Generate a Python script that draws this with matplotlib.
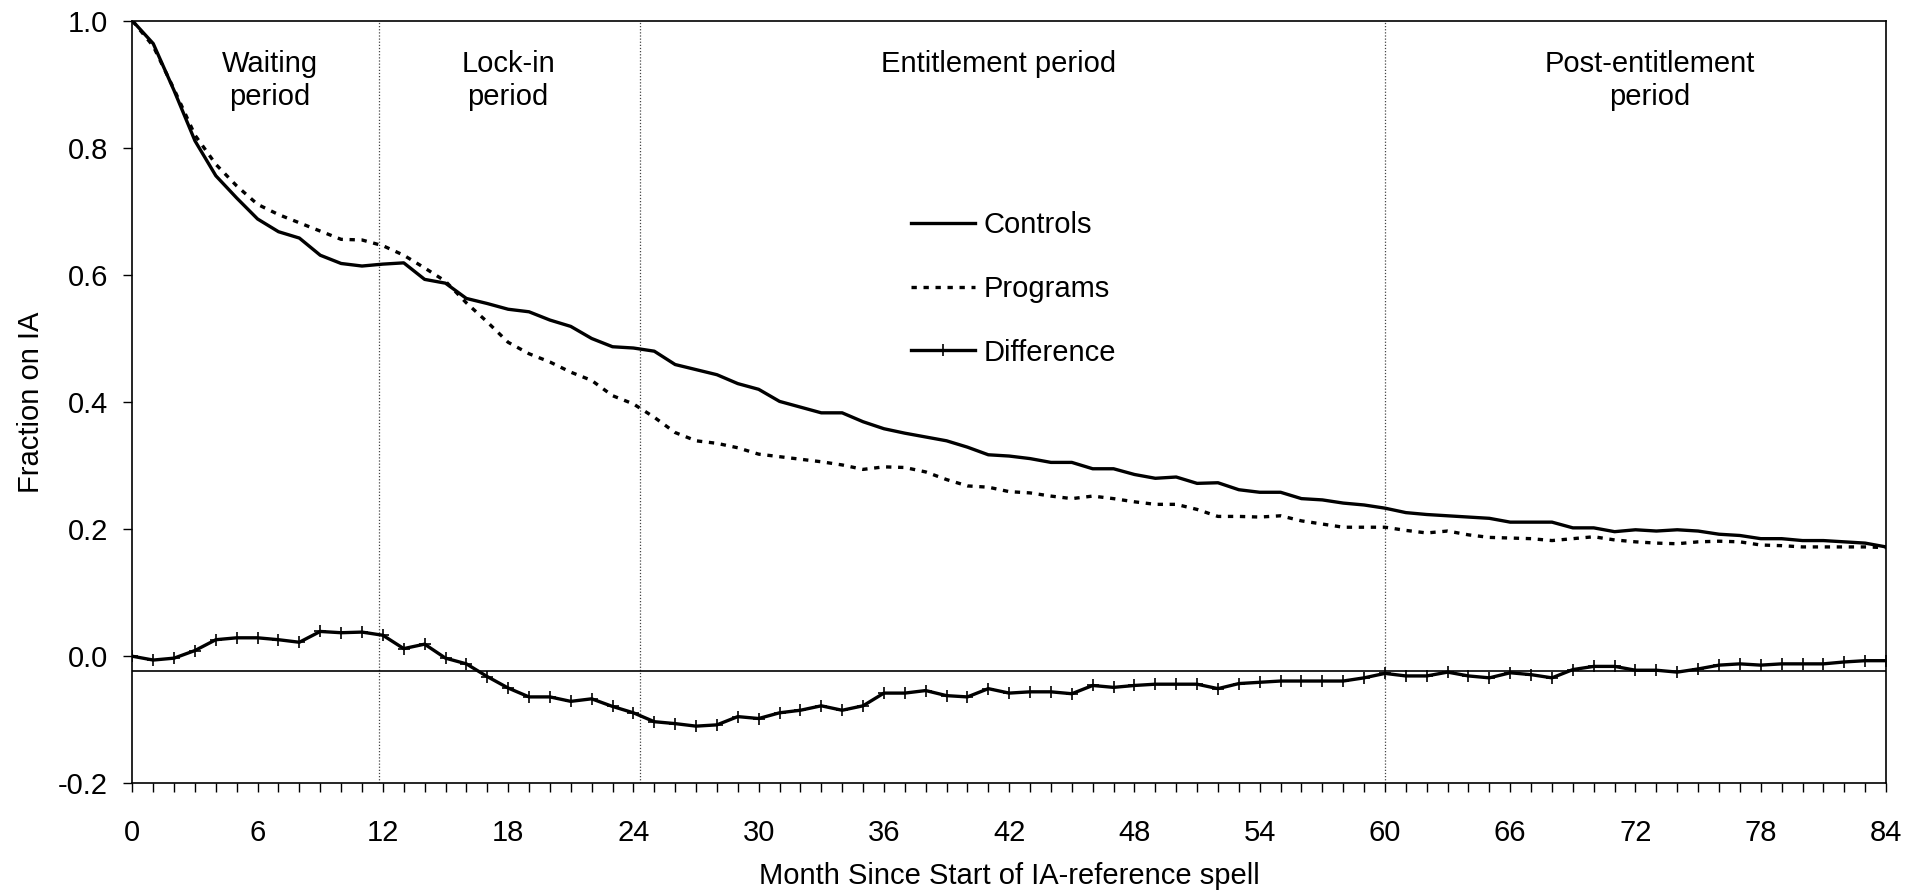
import numpy as np
import matplotlib
matplotlib.use("Agg")
import matplotlib.pyplot as plt
from matplotlib.ticker import FormatStrFormatter

# Monthly fractions on IA, months 0..84
months = np.arange(0, 85)

controls = [
    1.000, 0.964, 0.890, 0.811, 0.756, 0.721, 0.688, 0.668, 0.658, 0.631,
    0.618, 0.614, 0.617, 0.619, 0.593, 0.587, 0.563, 0.555, 0.546, 0.542,
    0.529, 0.519, 0.500, 0.487, 0.485, 0.480, 0.459, 0.451, 0.443, 0.429,
    0.420, 0.401, 0.392, 0.383, 0.383, 0.369, 0.358, 0.351, 0.345, 0.339,
    0.329, 0.317, 0.315, 0.311, 0.305, 0.305, 0.295, 0.295, 0.286, 0.280,
    0.282, 0.272, 0.273, 0.262, 0.258, 0.258, 0.248, 0.246, 0.241, 0.238,
    0.233, 0.226, 0.223, 0.221, 0.219, 0.217, 0.211, 0.211, 0.211, 0.202,
    0.202, 0.196, 0.199, 0.197, 0.199, 0.197, 0.192, 0.190, 0.185, 0.185,
    0.182, 0.182, 0.180, 0.178, 0.172,
]

programs = [
    1.000, 0.960, 0.892, 0.820, 0.774, 0.740, 0.711, 0.695, 0.682, 0.669,
    0.656, 0.655, 0.646, 0.631, 0.611, 0.590, 0.556, 0.526, 0.494, 0.476,
    0.463, 0.447, 0.434, 0.410, 0.397, 0.376, 0.352, 0.339, 0.335, 0.328,
    0.318, 0.314, 0.310, 0.306, 0.301, 0.294, 0.298, 0.297, 0.290, 0.278,
    0.268, 0.266, 0.259, 0.257, 0.252, 0.248, 0.252, 0.248, 0.243, 0.239,
    0.239, 0.231, 0.220, 0.220, 0.219, 0.221, 0.213, 0.208, 0.203, 0.203,
    0.203, 0.198, 0.194, 0.197, 0.191, 0.187, 0.186, 0.185, 0.182, 0.185,
    0.188, 0.183, 0.180, 0.178, 0.177, 0.180, 0.181, 0.180, 0.175, 0.174,
    0.172, 0.172, 0.172, 0.172, 0.171,
]

difference = [
    0.000, -0.006, -0.003, 0.009, 0.026, 0.029, 0.029, 0.026, 0.022, 0.039,
    0.037, 0.038, 0.033, 0.012, 0.019, -0.003, -0.012, -0.032, -0.050, -0.064,
    -0.064, -0.071, -0.067, -0.079, -0.089, -0.103, -0.106, -0.110, -0.108, -0.095,
    -0.098, -0.089, -0.085, -0.078, -0.085, -0.078, -0.058, -0.058, -0.054, -0.062,
    -0.064, -0.051, -0.058, -0.056, -0.056, -0.059, -0.046, -0.049, -0.046, -0.044,
    -0.044, -0.044, -0.051, -0.043, -0.041, -0.039, -0.039, -0.039, -0.039, -0.034,
    -0.027, -0.031, -0.031, -0.025, -0.031, -0.034, -0.026, -0.029, -0.034, -0.021,
    -0.016, -0.016, -0.022, -0.022, -0.025, -0.020, -0.014, -0.012, -0.014, -0.012,
    -0.012, -0.012, -0.009, -0.007, -0.007,
]

# period boundaries and labels
boundaries = [11.8, 24.3, 60]
period_labels = ["Waiting\nperiod", "Lock-in\nperiod", "Entitlement period", "Post-entitlement\nperiod"]
period_centers = [6.6, 18.0, 41.5, 72.7]
reference_level = -0.023

plt.rcParams["font.family"] = ["Liberation Sans", "DejaVu Sans"]
FS = 21

fig = plt.figure(figsize=(19.07, 8.93), dpi=100)
ax = fig.add_axes([0.0694, 0.1228, 0.9196, 0.854])

# boundaries of the periods
for b in boundaries:
    ax.axvline(b, color="#444444", lw=0.9, ls=(0, (1, 1.5)), zorder=1)
ax.axhline(reference_level, color="black", lw=1.2, zorder=1)

ax.plot(months, controls, color="black", lw=2.4, label="Controls", zorder=3)
ax.plot(months, programs, color="black", lw=2.4, ls=(0, (1.6, 2.0)), label="Programs", zorder=3)
ax.plot(months, difference, color="black", lw=2.4, marker="+", ms=8, mew=1.2,
        label="Difference", zorder=3)

for txt, xc in zip(period_labels, period_centers):
    ax.text(xc, 0.954, txt, ha="center", va="top", fontsize=FS, linespacing=1.22)

ax.set_xlim(0, 84)
ax.set_ylim(-0.2, 1.0)
ax.set_xticks(np.arange(0, 85, 6))
ax.set_xticks(months, minor=True)
ax.set_yticks(np.arange(-0.2, 1.01, 0.2))
ax.yaxis.set_major_formatter(FormatStrFormatter("%.1f"))
ax.tick_params(axis="x", which="both", direction="out", length=6.5, width=1, labelsize=FS, pad=19)
ax.tick_params(axis="y", direction="out", length=6.5, width=1, labelsize=FS, pad=11)
for s in ax.spines.values():
    s.set_linewidth(1.2)

ax.set_xlabel("Month Since Start of IA-reference spell", fontsize=FS)
ax.set_ylabel("Fraction on IA", fontsize=FS)
ax.xaxis.set_label_coords(0.5, -0.121)
ax.xaxis.label.set_va("center")
ax.yaxis.set_label_coords(-0.058, 0.5)
ax.yaxis.label.set_va("center")

ax.legend(loc="upper left", bbox_to_anchor=(0.444, 0.750), frameon=False, fontsize=FS,
          handlelength=2.2, handletextpad=0.3, labelspacing=1.22, borderpad=0,
          borderaxespad=0, numpoints=1)

fig.savefig("out.png", dpi=100)
